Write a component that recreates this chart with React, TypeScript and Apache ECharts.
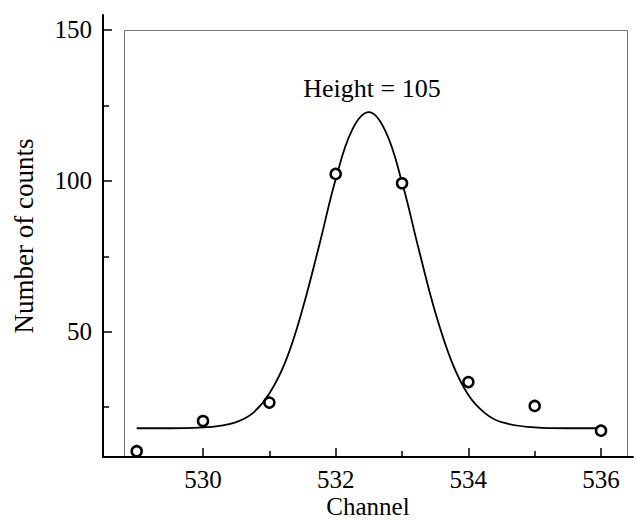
import React, { useEffect, useRef } from "react";
import * as echarts from "echarts";

// Measured data points (channel, counts)
const channels = [529, 530, 531, 532, 533, 534, 535, 536];
const counts = [10.4, 20.4, 26.5, 102.3, 99.2, 33.3, 25.4, 17.2];

// Fitted curve
const curveX = [529, 529.5, 530, 530.25, 530.5, 530.75, 531, 531.25, 531.5, 531.75, 532, 532.25, 532.5, 532.75, 533, 533.25, 533.5, 533.75, 534, 534.25, 534.5, 535, 535.5, 536];
const curveY = [18, 18, 18.3, 18.8, 20, 23, 29.5, 40.5, 57.5, 78.5, 100.5, 117, 122.8, 116.5, 99.5, 77.5, 56.5, 40, 29, 23, 20, 18.3, 18, 18];

const xMajorTicks = [530, 532, 534, 536];
const xMinorTicks = [531, 533, 535];
const yMajorTicks = [50, 100, 150];
const yMinorTicks = [25, 75, 125];

const annotation = "Height = 105";
const xName = "Channel";
const yName = "Number of counts";

const FONT = "'Liberation Serif', 'Times New Roman', serif";

export default function App() {
  const ref = useRef<HTMLDivElement>(null);
  useEffect(() => {
    if (!ref.current) return;
    const chart = echarts.init(ref.current, null, { renderer: "svg", width: 636, height: 520 });
    const xMin = 528.492;
    const xMax = 536.482;
    const yMin = 8.47;
    const yMax = 154.97;
    const grid = { left: 103, right: 3, top: 15, bottom: 63, containLabel: false, outerBoundsMode: "none" };
    const labelStyle = { color: "#000", fontFamily: FONT, fontSize: 25 };
    chart.setOption({
      animation: false,
      backgroundColor: "#fff",
      grid: [grid],
      xAxis: [
        {
          type: "value",
          min: xMin,
          max: xMax,
          splitLine: { show: false },
          axisLine: { show: true, onZero: false, lineStyle: { color: "#000", width: 2 } },
          axisTick: { show: true, inside: true, length: 9, customValues: xMajorTicks, lineStyle: { color: "#000", width: 1.5 } },
          axisLabel: { ...labelStyle, margin: 10, customValues: xMajorTicks, showMinLabel: true, showMaxLabel: true },
          name: xName,
          nameLocation: "middle",
          nameGap: 37,
          nameMoveOverlap: false,
          nameTextStyle: { color: "#000", fontFamily: FONT, fontSize: 25 },
        },
        {
          type: "value",
          min: xMin,
          max: xMax,
          position: "bottom",
          splitLine: { show: false },
          axisLine: { show: false, onZero: false },
          axisTick: { show: true, inside: true, length: 6, customValues: xMinorTicks, lineStyle: { color: "#000", width: 1.5 } },
          axisLabel: { show: false },
        },
      ],
      yAxis: [
        {
          type: "value",
          min: yMin,
          max: yMax,
          splitLine: { show: false },
          axisLine: { show: true, onZero: false, lineStyle: { color: "#000", width: 2 } },
          axisTick: { show: true, inside: true, length: 9, customValues: yMajorTicks, lineStyle: { color: "#000", width: 1.5 } },
          axisLabel: { ...labelStyle, margin: 11, customValues: yMajorTicks },
          name: yName,
          nameLocation: "middle",
          nameGap: 66,
          nameMoveOverlap: false,
          nameTextStyle: { color: "#000", fontFamily: FONT, fontSize: 27 },
        },
        {
          type: "value",
          min: yMin,
          max: yMax,
          position: "left",
          splitLine: { show: false },
          axisLine: { show: false, onZero: false },
          axisTick: { show: true, inside: true, length: 6, customValues: yMinorTicks, lineStyle: { color: "#000", width: 1.5 } },
          axisLabel: { show: false },
        },
      ],
      graphic: [
        {
          type: "rect",
          shape: { x: 124.5, y: 30.5, width: 503, height: 427 },
          style: { fill: "none", stroke: "#777", lineWidth: 1 },
          z: 0,
          silent: true,
        },
        {
          type: "text",
          x: 372,
          y: 88,
          style: {
            text: annotation,
            fill: "#000",
            font: `26px ${FONT}`,
            textAlign: "center",
            textVerticalAlign: "middle",
          },
          z: 10,
        },
      ],
      series: [
        {
          type: "line",
          data: curveX.map((x, i) => [x, curveY[i]]),
          showSymbol: false,
          smooth: 0.4,
          lineStyle: { color: "#000", width: 1.8 },
          z: 3,
        },
        {
          type: "scatter",
          data: channels.map((c, i) => [c, counts[i]]),
          symbol: "circle",
          symbolSize: 10,
          itemStyle: { color: "#fff", borderColor: "#000", borderWidth: 2.5, opacity: 1 },
          z: 4,
        },
      ],
    });
    return () => chart.dispose();
  }, []);
  return (
    <div
      ref={ref}
      style={{ position: "fixed", left: 0, top: 0, width: 636, height: 520 }}
    />
  );
}
